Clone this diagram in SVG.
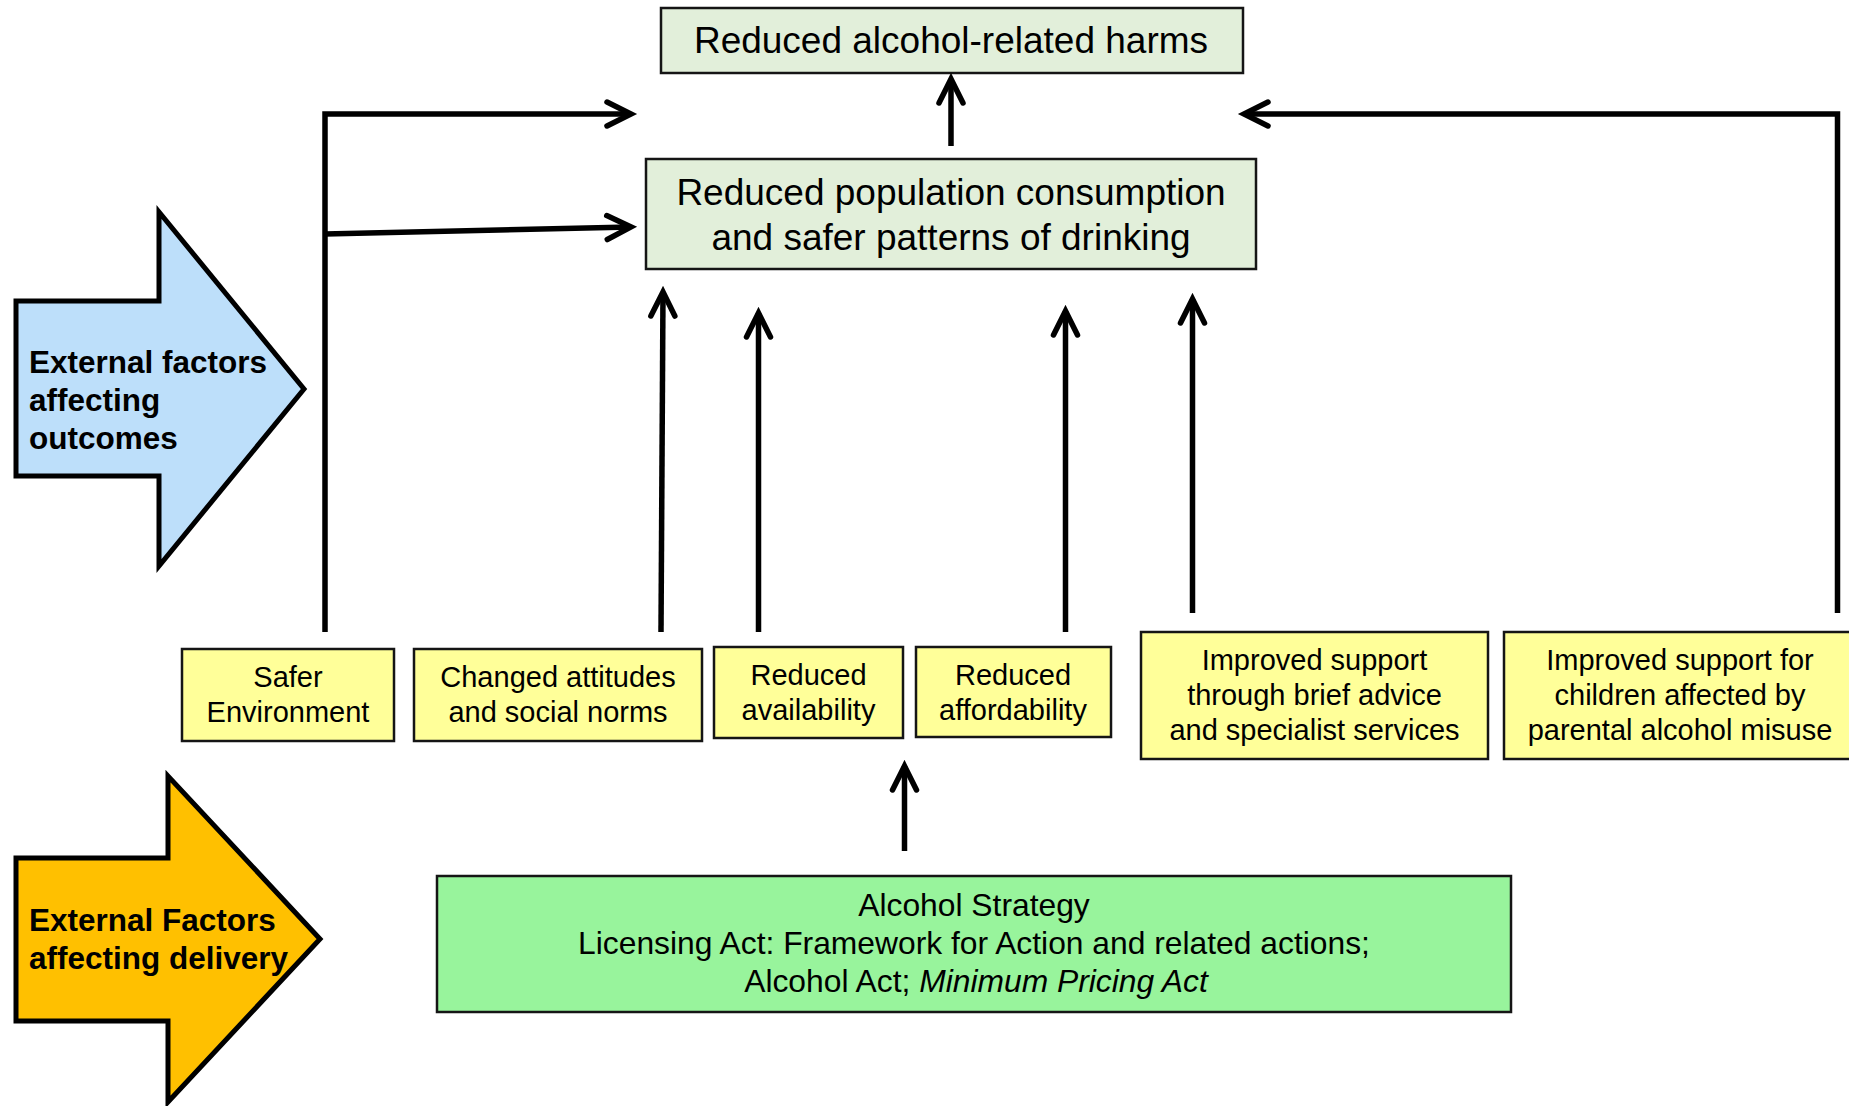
<svg xmlns="http://www.w3.org/2000/svg" width="1849" height="1106" viewBox="0 0 1849 1106">
<style>
  .box { stroke: #151515; stroke-width: 2.5; }
  .outcome { fill: #E2EFDA; }
  .yellow { fill: #FFFF99; }
  .strategy { fill: #98F49C; }
  .t37 { font-family: "Liberation Sans", Arial, sans-serif; font-size: 37px; fill: #000; text-anchor: middle; }
  .t29 { font-family: "Liberation Sans", Arial, sans-serif; font-size: 29px; fill: #000; text-anchor: middle; }
  .t32 { font-family: "Liberation Sans", Arial, sans-serif; font-size: 31.8px; fill: #000; text-anchor: middle; }
  .bold { font-family: "Liberation Sans", Arial, sans-serif; font-size: 31.5px; font-weight: bold; fill: #000; }
  .big { stroke: #000; stroke-width: 5; stroke-linejoin: miter; }
  .conn { fill: none; stroke: #000; stroke-width: 5.5; }
</style>
<defs>
  <marker id="ah" markerUnits="userSpaceOnUse" markerWidth="40" markerHeight="40" viewBox="-30 -20 40 40" refX="0" refY="0" orient="auto" overflow="visible">
    <path d="M-24,-12 L0,0 L-24,12" fill="none" stroke="#000" stroke-width="5.5" stroke-linecap="round" stroke-linejoin="miter"/>
  </marker>
</defs>
<rect width="1849" height="1106" fill="#fff"/>

<g id="ext-outcomes">
  <polygon class="big" fill="#BDDFFA" points="16,301 159,301 159,212 304,389 159,566 159,476 16,476"/>
  <text class="bold" x="29" y="373">External factors</text>
  <text class="bold" x="29" y="411">affecting</text>
  <text class="bold" x="29" y="449">outcomes</text>
</g>

<g id="ext-delivery">
  <polygon class="big" fill="#FFC000" points="16,858 168,858 168,776 320,939 168,1102 168,1021 16,1021"/>
  <text class="bold" x="29" y="931">External Factors</text>
  <text class="bold" x="29" y="969">affecting delivery</text>
</g>

<g id="harms">
  <rect class="box outcome" x="661" y="8" width="582" height="65"/>
  <text class="t37" x="951" y="53">Reduced alcohol-related harms</text>
</g>

<g id="consumption">
  <rect class="box outcome" x="646" y="159" width="610" height="110"/>
  <text class="t37" x="951" y="205">Reduced population consumption</text>
  <text class="t37" x="951" y="250">and safer patterns of drinking</text>
</g>

<g id="safer">
  <rect class="box yellow" x="182" y="649" width="212" height="92"/>
  <text class="t29" x="288" y="687">Safer</text>
  <text class="t29" x="288" y="722">Environment</text>
</g>

<g id="attitudes">
  <rect class="box yellow" x="414" y="649" width="288" height="92"/>
  <text class="t29" x="558" y="687">Changed attitudes</text>
  <text class="t29" x="558" y="722">and social norms</text>
</g>

<g id="availability">
  <rect class="box yellow" x="714" y="647" width="189" height="91"/>
  <text class="t29" x="808.5" y="685">Reduced</text>
  <text class="t29" x="808.5" y="720">availability</text>
</g>

<g id="affordability">
  <rect class="box yellow" x="916" y="647" width="195" height="90"/>
  <text class="t29" x="1013" y="685">Reduced</text>
  <text class="t29" x="1013" y="720">affordability</text>
</g>

<g id="support">
  <rect class="box yellow" x="1141" y="632" width="347" height="127"/>
  <text class="t29" x="1314.5" y="670">Improved support</text>
  <text class="t29" x="1314.5" y="705">through brief advice</text>
  <text class="t29" x="1314.5" y="740">and specialist services</text>
</g>

<g id="children">
  <rect class="box yellow" x="1504" y="632" width="352" height="127"/>
  <text class="t29" x="1680" y="670">Improved support for</text>
  <text class="t29" x="1680" y="705">children affected by</text>
  <text class="t29" x="1680" y="740">parental alcohol misuse</text>
</g>

<g id="strategy">
  <rect class="box strategy" x="437" y="876" width="1074" height="136"/>
  <text class="t32" x="974" y="916">Alcohol Strategy</text>
  <text class="t32" x="974" y="954">Licensing Act: Framework for Action and related actions;</text>
  <text class="t32" x="976" y="992">Alcohol Act; <tspan font-style="italic">Minimum Pricing Act</tspan></text>
</g>

<g id="connectors">
  <path class="conn" d="M325,632 L325,114 L631,114" marker-end="url(#ah)"/>
  <path class="conn" d="M325,234 L631,227" marker-end="url(#ah)"/>
  <path class="conn" d="M661,632 L663,292" marker-end="url(#ah)"/>
  <path class="conn" d="M758.5,632 L758.5,313" marker-end="url(#ah)"/>
  <path class="conn" d="M1065.5,632 L1065.5,311" marker-end="url(#ah)"/>
  <path class="conn" d="M1192.5,613 L1192.5,299" marker-end="url(#ah)"/>
  <path class="conn" d="M1837.5,613 L1837.5,114 L1244,114" marker-end="url(#ah)"/>
  <path class="conn" d="M951,146 L951,79" marker-end="url(#ah)"/>
  <path class="conn" d="M904.5,851 L904.5,766" marker-end="url(#ah)"/>
</g>
</svg>
